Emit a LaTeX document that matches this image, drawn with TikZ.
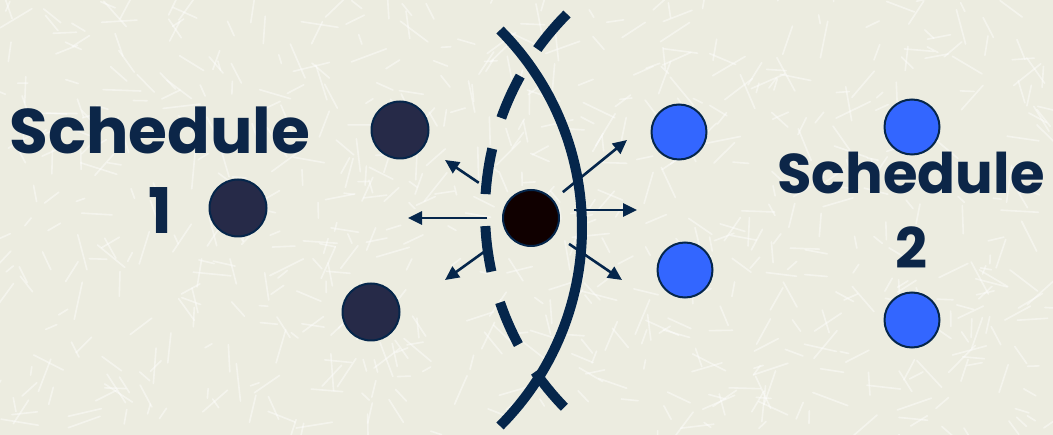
\documentclass[tikz,border=0pt]{standalone}
\usepackage{fontspec}
\setmainfont{Poppins}
\usetikzlibrary{arrows.meta, calc}
\definecolor{paper}{RGB}{236,236,224}
\definecolor{navy}{RGB}{5,38,75}
\definecolor{inkblue}{RGB}{12,38,72}
\definecolor{darkdot}{RGB}{38,42,72}
\definecolor{brightdot}{RGB}{51,102,255}
\definecolor{centerdot}{RGB}{16,0,0}

\tikzset{
  olddot/.style={circle, draw=navy, line width=2pt, fill=darkdot, minimum size=57pt, inner sep=0pt},
  newdot/.style={circle, draw=navy, line width=2pt, fill=brightdot, minimum size=55pt, inner sep=0pt},
  label/.style={text=inkblue, align=center, inner sep=0pt},
  push/.style={-{Triangle[length=14pt, width=13pt]}, navy, line width=2.6pt},
  front/.style={navy, line width=10pt}
}

\begin{document}
\begin{tikzpicture}[x=1pt, y=-1pt]
  \useasboundingbox (0,0) rectangle (1053,435);
  \fill[paper] (0,0) rectangle (1053,435);
  % texture
  \pgfmathsetseed{11}
  \foreach \i in {1,...,700}{
    \pgfmathsetmacro{\px}{rnd*1053}
    \pgfmathsetmacro{\py}{rnd*435}
    \pgfmathsetmacro{\pa}{rnd*360}
    \pgfmathsetmacro{\pl}{8+rnd*30}
    \draw[white, opacity=0.45, line width=1.6pt, line cap=round] (\px,\py) -- ++(\pa:\pl);
  }
  % labels
  \node[label, font=\fontsize{63}{80}\selectfont\bfseries] (s1) at (160,170) {Schedule\\1};
  \node[label, font=\fontsize{56}{75}\selectfont\bfseries] (s2) at (911,210) {Schedule\\2};
  % schedule 1 dots
  \node[olddot] (a) at (400,130) {};
  \node[olddot] (b) at (238,208) {};
  \node[olddot] (d) at (371,312) {};
  % schedule 2 dots
  \node[newdot] (p) at (679,132) {};
  \node[newdot] (q) at (685,270) {};
  \node[newdot] (u) at (912,127) {};
  \node[newdot] (v) at (912,320) {};
  % fronts
  \draw[front, dash pattern=on 46pt off 32pt] plot[domain=225:135, samples=60] ({765+280*cos(\x)},{212+280*sin(\x)});
  \draw[front] plot[domain=-45:45, samples=60] ({302+280*cos(\x)},{228+280*sin(\x)});
  % moving point
  \node[circle, draw=navy, line width=2pt, fill=centerdot, minimum size=56pt, inner sep=0pt] (c) at (531,218) {};
  \coordinate (ul) at (445,160);
  \coordinate (l) at (408,218);
  \coordinate (dl) at (445,280);
  \coordinate (ur) at (627,140);
  \coordinate (r) at (637,210);
  \coordinate (dr) at (622,280);
  \draw[push, shorten <=34pt] (c) -- (ul);
  \draw[push, shorten <=15pt] (c) -- (l);
  \draw[push, shorten <=21pt] (c) -- (dl);
  \draw[push, shorten <=12pt] (c) -- (ur);
  \draw[push, shorten <=14pt] ([yshift=8pt]c.east) -- (r);
  \draw[push, shorten <=17pt] (c) -- (dr);
\end{tikzpicture}
\end{document}
